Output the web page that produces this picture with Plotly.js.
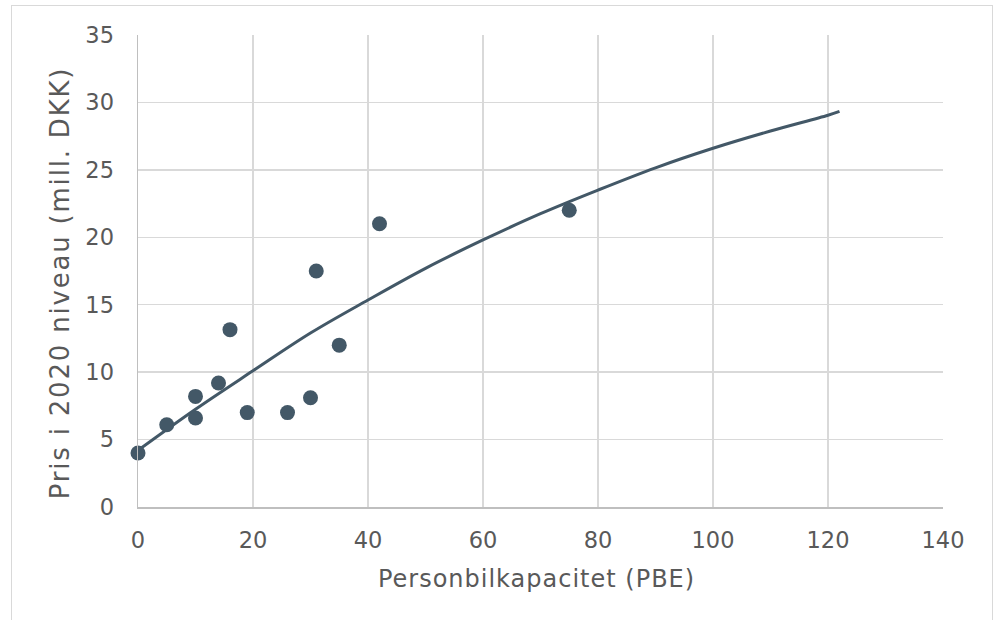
<!DOCTYPE html>
<html>
<head>
<meta charset="utf-8">
<script src="https://cdn.plot.ly/plotly-3.0.1.min.js"></script>
<style>
  html, body { margin: 0; padding: 0; background: #fff; }
  #wrap { position: relative; width: 997px; height: 620px; overflow: hidden; }
  #chart { width: 997px; height: 620px; }
  #frame { position: absolute; left: 11px; top: 5px; width: 982px; height: 700px;
           border: 1.5px solid #d9d9d9; pointer-events: none; box-sizing: border-box; }
  .g-xtitle text { letter-spacing: 1px; }
  .g-ytitle text { letter-spacing: 1.8px; }
  .g-ytitle { transform: translateY(12px); }
  .g-xtitle { transform: translateX(-4px); }
</style>
</head>
<body>
<div id="wrap">
  <div id="chart"></div>
  <div id="frame"></div>
</div>
<script>
// Observed data points
const capacity = [0, 5, 10, 10, 14, 16, 19, 26, 30, 31, 35, 42, 75];
const price    = [4.0, 6.1, 8.2, 6.6, 9.2, 13.15, 7.0, 7.0, 8.1, 17.5, 12.0, 21.0, 22.0];

// Trend line
const trendX = [0, 10, 20, 30, 40, 50, 60, 70, 80, 90, 100, 110, 120, 122];
const trendY = [4.2, 7.25, 10.1, 12.9, 15.35, 17.7, 19.8, 21.75, 23.5, 25.15, 26.6, 27.88, 29.05, 29.33];

const xTicks = [0, 20, 40, 60, 80, 100, 120, 140];
const yTicks = [0, 5, 10, 15, 20, 25, 30, 35];

const col = '#435867';
const font = 'Verdana, "DejaVu Sans", sans-serif';

const traces = [
  {
    x: trendX, y: trendY, type: 'scatter', mode: 'lines',
    line: { color: col, width: 3, shape: 'spline', smoothing: 1 },
    hoverinfo: 'skip', showlegend: false
  },
  {
    x: capacity, y: price, type: 'scatter', mode: 'markers',
    marker: { color: col, size: 15 },
    cliponaxis: false,
    showlegend: false
  }
];

const layout = {
  width: 997, height: 620,
  margin: { l: 138.3, r: 54.3, t: 34.7, b: 113.3 },
  paper_bgcolor: '#ffffff', plot_bgcolor: '#ffffff',
  font: { family: font, color: '#595959', size: 22.5 },
  showlegend: false,
  xaxis: {
    range: [0, 140], tickvals: xTicks, ticktext: xTicks.map(String),
    showgrid: true, gridcolor: '#d9d9d9', gridwidth: 1.5,
    zeroline: false, showline: true, linecolor: '#bfbfbf', linewidth: 1.5,
    ticks: '', ticklabelstandoff: 12,
    tickfont: { family: font, size: 22.5, color: '#595959' },
    title: { text: 'Personbilkapacitet (PBE)', font: { family: font, size: 24, color: '#595959' }, standoff: 18 }
  },
  yaxis: {
    range: [0, 35], tickvals: yTicks, ticktext: yTicks.map(String),
    showgrid: true, gridcolor: '#d9d9d9', gridwidth: 1.5,
    zeroline: false, showline: true, linecolor: '#bfbfbf', linewidth: 1.5,
    ticks: '', ticklabelstandoff: 18,
    tickfont: { family: font, size: 22.5, color: '#595959' },
    title: { text: 'Pris i 2020 niveau (mill. DKK)', font: { family: font, size: 26, color: '#595959' }, standoff: 8 }
  }
};

Plotly.newPlot('chart', traces, layout, { staticPlot: true, displayModeBar: false });
</script>
</body>
</html>
